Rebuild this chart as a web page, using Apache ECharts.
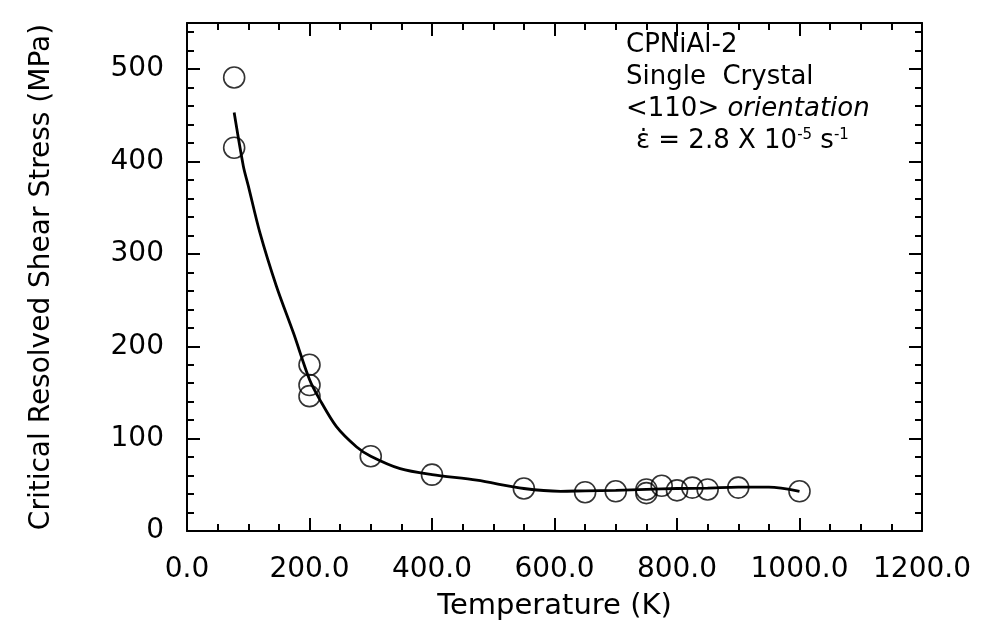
<!DOCTYPE html>
<html>
<head>
<meta charset="utf-8">
<script src="https://cdn.jsdelivr.net/npm/echarts@6/dist/echarts.min.js"></script>
<style>
html,body{margin:0;padding:0;background:#fff;}
#chart{width:983px;height:629px;}
</style>
</head>
<body>
<div id="chart"></div>
<script>
// Measured data points (temperature K, CRSS MPa)
const tempK  = [77, 77, 200, 200, 200, 300, 400, 550, 650, 700, 750, 750, 775, 800, 825, 850, 900, 1000];
const stress = [491, 415, 180, 158, 146, 81, 61, 46, 42, 43, 45, 41, 49, 44, 47, 45, 47, 43];

// Fitted curve
const fitT = [77, 92, 100, 119, 146, 174, 200, 217, 244, 277, 300, 348, 400, 473, 550, 610, 650, 700, 750, 800, 850, 900, 950, 1000];
const fitS = [453, 395, 374, 323, 265, 214, 164, 142, 113, 91, 81, 67.5, 61, 55, 46, 43, 43.5, 44, 45, 46, 46.5, 47.5, 47.5, 43];

const xTitle = 'Temperature (K)';
const yTitle = 'Critical Resolved Shear Stress (MPa)';
const noteLines = ['CPNiAl-2', 'Single  Crystal'];

const FONT = 'DejaVu Sans';
const chart = echarts.init(document.getElementById('chart'), null, {renderer: 'canvas'});

function axisCommon(extra) {
  return Object.assign({
    axisLine: {show: true, onZero: false, lineStyle: {color: '#000', width: 2}},
    axisTick: {show: true, inside: true, length: 13, lineStyle: {color: '#000', width: 2}},
    splitLine: {show: false},
    minorSplitLine: {show: false}
  }, extra);
}

const option = {
  backgroundColor: '#fff',
  animation: false,
  grid: {left: 187, right: 61, top: 23, bottom: 98},
  xAxis: [
    axisCommon({
      type: 'value', position: 'bottom', min: 0, max: 1200, interval: 200,
      minorTick: {show: true, splitNumber: 4, length: 7, lineStyle: {color: '#000', width: 2}},
      axisLabel: {color: '#000', fontFamily: FONT, fontSize: 28, margin: 25,
        formatter: v => v.toFixed(1)},
      name: xTitle, nameLocation: 'middle', nameGap: 61,
      nameTextStyle: {color: '#000', fontFamily: FONT, fontSize: 29}
    }),
    axisCommon({
      type: 'value', position: 'top', min: 0, max: 1200, interval: 200,
      minorTick: {show: true, splitNumber: 4, length: 7, lineStyle: {color: '#000', width: 2}},
      axisLabel: {show: false}
    })
  ],
  yAxis: [
    axisCommon({
      type: 'value', position: 'left', min: 0, max: 550, interval: 100,
      minorTick: {show: true, splitNumber: 5, length: 7, lineStyle: {color: '#000', width: 2}},
      axisLabel: {color: '#000', fontFamily: FONT, fontSize: 28, margin: 23,
        showMaxLabel: false},
      name: yTitle, nameLocation: 'middle', nameGap: 131, nameRotate: 90,
      nameTextStyle: {color: '#000', fontFamily: FONT, fontSize: 28}
    }),
    axisCommon({
      type: 'value', position: 'right', min: 0, max: 550, interval: 100,
      minorTick: {show: true, splitNumber: 5, length: 7, lineStyle: {color: '#000', width: 2}},
      axisLabel: {show: false}
    })
  ],
  series: [
    {
      type: 'line', xAxisIndex: 0, yAxisIndex: 0,
      data: fitT.map((t, i) => [t, fitS[i]]),
      smooth: 0.3, showSymbol: false, symbol: 'none',
      lineStyle: {color: '#000', width: 2.8}, z: 2
    },
    {
      type: 'scatter', xAxisIndex: 0, yAxisIndex: 0,
      data: tempK.map((t, i) => [t, stress[i]]),
      symbol: 'circle', symbolSize: 21,
      itemStyle: {color: 'rgba(0,0,0,0)', borderColor: '#000', borderWidth: 1.6}, z: 3
    }
  ],
  graphic: [
    {type: 'text', x: 626, y: 45, style: {text: noteLines[0], font: '26px "DejaVu Sans"', fill: '#000', verticalAlign: 'middle', align: 'left'}},
    {type: 'text', x: 626, y: 77, style: {text: noteLines[1], font: '26px "DejaVu Sans"', fill: '#000', verticalAlign: 'middle', align: 'left'}},
    {type: 'text', x: 626, y: 109, style: {
      text: '<110> {i|orientation}', font: '26px "DejaVu Sans"', fill: '#000', verticalAlign: 'middle', align: 'left',
      rich: {i: {fontStyle: 'italic', fontFamily: FONT, fontSize: 26, fill: '#000'}}
    }},
    {type: 'text', x: 636, y: 141, style: {
      text: 'ε̇ = 2.8 X 10{sup|-5} s{sup|-1}', font: '26px "DejaVu Sans"', fill: '#000', verticalAlign: 'middle', align: 'left',
      rich: {sup: {fontFamily: FONT, fontSize: 15, verticalAlign: 'top', fill: '#000'}}
    }}
  ]
};
chart.setOption(option);
</script>
</body>
</html>
